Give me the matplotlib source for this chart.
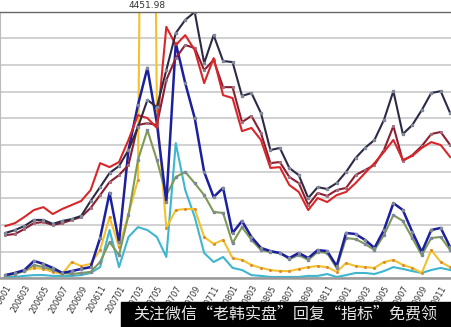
import matplotlib
matplotlib.use('Agg')
import matplotlib.pyplot as plt
from matplotlib.patches import Rectangle
import numpy as np

# monthly data 2006-01 .. 2009-12
months = [f'{y}{m:02d}' for y in (2006, 2007, 2008, 2009) for m in range(1, 13)]

dark_line = [170, 181, 196, 219, 219, 204, 215, 222, 234, 290, 342, 395, 421, 481, 567, 669,
             642, 781, 920, 969, 999, 807, 912, 815, 811, 684, 695, 620, 481, 489, 414, 387,
             301, 342, 335, 357, 399, 451, 489, 519, 594, 702, 541, 575, 631, 695, 702, 620]
red_line = [196, 207, 230, 256, 267, 241, 260, 275, 290, 331, 432, 417, 436, 519, 612, 601,
            564, 943, 875, 912, 856, 732, 826, 687, 676, 552, 564, 519, 414, 417, 350, 324,
            256, 301, 286, 312, 324, 357, 395, 432, 474, 519, 444, 459, 489, 511, 500, 455]
maroon_line = [162, 166, 185, 207, 211, 200, 207, 219, 230, 264, 312, 361, 387, 425, 575, 582,
               575, 744, 826, 875, 864, 781, 819, 717, 717, 586, 609, 545, 432, 436, 380, 357,
               275, 320, 309, 331, 339, 387, 406, 425, 481, 571, 440, 462, 496, 541, 549, 500]
navy_line = [12, 20, 31, 65, 54, 39, 20, 27, 35, 42, 151, 320, 136, 481, 650, 789,
             582, 286, 882, 732, 601, 399, 305, 339, 170, 215, 155, 114, 102, 95, 76, 95,
             76, 106, 102, 46, 170, 166, 144, 114, 181, 282, 256, 174, 99, 181, 189, 117]
olive_line = [9, 16, 27, 50, 42, 31, 20, 16, 20, 24, 61, 136, 87, 237, 444, 556,
              444, 312, 380, 399, 357, 312, 249, 245, 132, 192, 144, 106, 99, 95, 72, 87,
              69, 99, 95, 39, 151, 147, 129, 106, 162, 237, 215, 151, 87, 151, 155, 106]
yellow_line = [12, 20, 27, 39, 35, 24, 16, 61, 46, 54, 106, 230, 117, 241, 369, 4451.98,
               631, 189, 256, 260, 260, 155, 129, 144, 76, 69, 50, 39, 31, 27, 27, 35,
               42, 46, 42, 24, 57, 46, 42, 39, 61, 69, 50, 39, 20, 106, 61, 42]
cyan_line = [5, 5, 9, 12, 12, 9, 9, 9, 12, 20, 42, 181, 42, 155, 192, 181,
             155, 80, 507, 331, 230, 95, 61, 80, 39, 31, 12, 9, 5, 5, 5, 5,
             9, 9, 16, 5, 12, 20, 20, 16, 27, 42, 35, 27, 20, 31, 39, 31]

peak_label = '4451.98'
banner = '关注微信“老韩实盘”回复“指标”免费领'

fig = plt.figure(figsize=(4.51, 3.27), dpi=100)
ax = fig.add_axes([0, 1 - 278.3 / 327, 1, 266.6 / 327])

x = np.arange(len(months))
mk = dict(marker='s', ms=1.5, mfc='#7f8898', mec='#7f8898')
ax.plot(x, cyan_line, color='#3fb6cf', lw=1.5)
ax.plot(x, yellow_line, color='#f2c12e', lw=1.5, marker='o', ms=1.2, mfc='#e08a30', mec='#e08a30')
ax.plot(x, olive_line, color='#7e9a58', lw=1.5, **mk)
ax.plot(x, navy_line, color='#1c1f9e', lw=1.8, **mk)
ax.plot(x, maroon_line, color='#8c1f30', lw=1.5, marker='s', ms=1.2, mfc='#a07080', mec='#a07080')
ax.plot(x, red_line, color='#d8272a', lw=1.5)
ax.plot(x, dark_line, color='#2d2a46', lw=1.5, **mk)

ax.text(months.index('200704'), 1.025, peak_label, transform=ax.get_xaxis_transform(),
        ha='center', va='center', fontsize=6.5, color='#333333', clip_on=False)

ax.set_xlim(-0.58, 47.09)
ax.set_ylim(0, 1000)
ax.set_yticks(range(0, 1001, 100))
ax.set_yticklabels([])
ax.tick_params(axis='y', length=0)
ax.grid(axis='y', color='#c9c9c9', lw=1.2)
ax.set_axisbelow(True)

ax.set_xticks(x[::2])
ax.set_xticklabels(months[::2], rotation=60, ha='right', rotation_mode='anchor',
                   fontsize=5.8, color='#333333')
ax.tick_params(axis='x', length=0, pad=4)

ax.spines['right'].set_visible(False)
ax.spines['left'].set_color('#bbbbbb')
ax.spines['top'].set_color('#666666')
ax.spines['top'].set_linewidth(1.0)
ax.spines['bottom'].set_color('#9a9a9a')
ax.spines['bottom'].set_linewidth(1.8)

# black banner at the bottom
fig.patches.append(Rectangle((121 / 451, 0), 1 - 121 / 451, 25.5 / 327, transform=fig.transFigure,
                             color='black', zorder=10))
fig.text(285 / 451, 13 / 327, banner, ha='center', va='center', fontsize=11.5, color='#e6e6e6',
         family=['Noto Sans CJK SC', 'DejaVu Sans'], zorder=11)

fig.savefig('out.png', dpi=100)
